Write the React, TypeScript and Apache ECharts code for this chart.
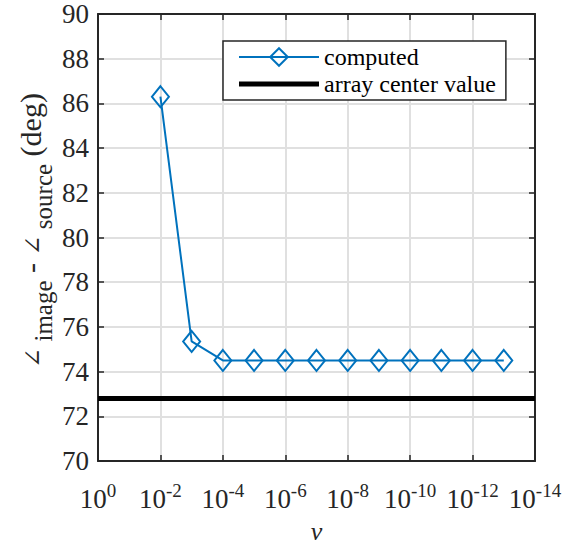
import React, { useEffect, useRef } from "react";
import * as echarts from "echarts";

// Sample points of v and the computed angle difference at each one (deg)
const vSamples = [1e-2, 1e-3, 1e-4, 1e-5, 1e-6, 1e-7, 1e-8, 1e-9, 1e-10, 1e-11, 1e-12, 1e-13];
const computedDeg = [86.3, 75.35, 74.5, 74.5, 74.5, 74.5, 74.5, 74.5, 74.5, 74.5, 74.5, 74.5];
// Reference angle of the array centre (deg)
const centerDeg = 72.8;
// Axis extents
const vRange = [1e-14, 1];
const degRange = [70, 90];
const degStep = 2;
const decadeStep = 2;

const FONT = "Liberation Serif";
const INK = "#262626";
const GRID = "#e0e0e0";
const BLUE = "#0072BD";

export default function App() {
  const ref = useRef<HTMLDivElement>(null);

  useEffect(() => {
    document.body.style.margin = "0";
    if (!ref.current) return;
    const chart = echarts.init(ref.current, undefined, { renderer: "svg" });

    const pow10Label = (val: number) => {
      const e = Math.round(Math.log10(val));
      return `{b|10}{s|${e}}`;
    };

    const frameX = {
      type: "log" as const,
      logBase: 10,
      min: vRange[0],
      max: vRange[1],
      interval: decadeStep,
      inverse: true,
    };
    const frameY = {
      type: "value" as const,
      min: degRange[0],
      max: degRange[1],
      interval: degStep,
    };

    chart.setOption({
      animation: false,
      backgroundColor: "#ffffff",
      textStyle: { fontFamily: FONT },
      grid: { left: 98, right: 34, top: 14, bottom: 82, containLabel: false },
      legend: {
        data: [
          { name: "computed" },
          { name: "array center value", icon: "path://M0,0H80V5H0Z" },
        ],
        orient: "vertical",
        left: 223,
        top: 41,
        backgroundColor: "#ffffff",
        borderColor: INK,
        borderWidth: 1.5,
        borderRadius: 0,
        padding: [4, 10, 4, 15],
        itemWidth: 80,
        itemHeight: 22,
        itemGap: 3,
        textStyle: { fontFamily: FONT, fontSize: 24, color: "#000000" },
      },
      xAxis: [
        {
          ...frameX,
          position: "bottom",
          name: "v",
          nameLocation: "middle",
          nameGap: 57,
          nameMoveOverlap: false,
          nameTextStyle: { fontFamily: FONT, fontSize: 26, fontStyle: "italic", color: INK },
          axisLine: { show: true, onZero: false, lineStyle: { color: INK, width: 2 } },
          axisTick: { show: true, inside: true, length: 6, lineStyle: { color: INK, width: 1.5 } },
          minorTick: { show: false },
          splitLine: { show: true, lineStyle: { color: GRID, width: 2 } },
          axisLabel: {
            margin: 20,
            formatter: pow10Label,
            color: INK,
            fontFamily: FONT,
            rich: {
              b: { fontFamily: FONT, fontSize: 27, color: INK, verticalAlign: "bottom" },
              s: { fontFamily: FONT, fontSize: 19, color: INK, verticalAlign: "bottom", padding: [0, 0, 12, 0] },
            },
          },
        },
        {
          ...frameX,
          position: "top",
          axisLine: { show: true, onZero: false, lineStyle: { color: INK, width: 2 } },
          axisTick: { show: true, inside: true, length: 6, lineStyle: { color: INK, width: 1.5 } },
          axisLabel: { show: false },
          splitLine: { show: false },
        },
      ],
      yAxis: [
        {
          ...frameY,
          position: "left",
          name: "{a|∠}{s| image}{m| - }{a|∠}{s| source}{m| (deg)}",
          nameLocation: "middle",
          nameGap: 42,
          nameMoveOverlap: false,
          nameRotate: 90,
          nameTextStyle: {
            fontFamily: FONT,
            color: INK,
            padding: [0, 0, 0, 14],
            rich: {
              m: { fontFamily: FONT, fontSize: 30, color: INK, verticalAlign: "bottom", padding: [0, 0, 11, 0] },
              a: { fontFamily: "DejaVu Serif", fontSize: 24, color: INK, verticalAlign: "bottom", padding: [0, 0, 11, 0] },
              s: { fontFamily: FONT, fontSize: 25, color: INK, verticalAlign: "bottom" },
            },
          },
          axisLine: { show: true, onZero: false, lineStyle: { color: INK, width: 2 } },
          axisTick: { show: true, inside: true, length: 6, lineStyle: { color: INK, width: 1.5 } },
          splitLine: { show: true, lineStyle: { color: GRID, width: 2 } },
          axisLabel: { margin: 9, color: INK, fontFamily: FONT, fontSize: 27 },
        },
        {
          ...frameY,
          position: "right",
          axisLine: { show: true, onZero: false, lineStyle: { color: INK, width: 2 } },
          axisTick: { show: true, inside: true, length: 6, lineStyle: { color: INK, width: 1.5 } },
          axisLabel: { show: false },
          splitLine: { show: false },
        },
      ],
      series: [
        {
          name: "array center value",
          type: "line",
          xAxisIndex: 0,
          yAxisIndex: 0,
          data: [
            [vRange[1], centerDeg],
            [vRange[0], centerDeg],
          ],
          symbol: "none",
          lineStyle: { color: "#000000", width: 5 },
          itemStyle: { color: "#000000" },
          z: 3,
        },
        {
          name: "computed",
          type: "line",
          xAxisIndex: 0,
          yAxisIndex: 0,
          data: vSamples.map((v, i) => [v, computedDeg[i]]),
          symbol: "diamond",
          symbolSize: [17, 21],
          lineStyle: { color: BLUE, width: 2 },
          itemStyle: { color: "rgba(255,255,255,0)", borderColor: BLUE, borderWidth: 2 },
          z: 4,
        },
      ],
    });

    return () => chart.dispose();
  }, []);

  return <div ref={ref} style={{ width: 569, height: 549 }} />;
}
